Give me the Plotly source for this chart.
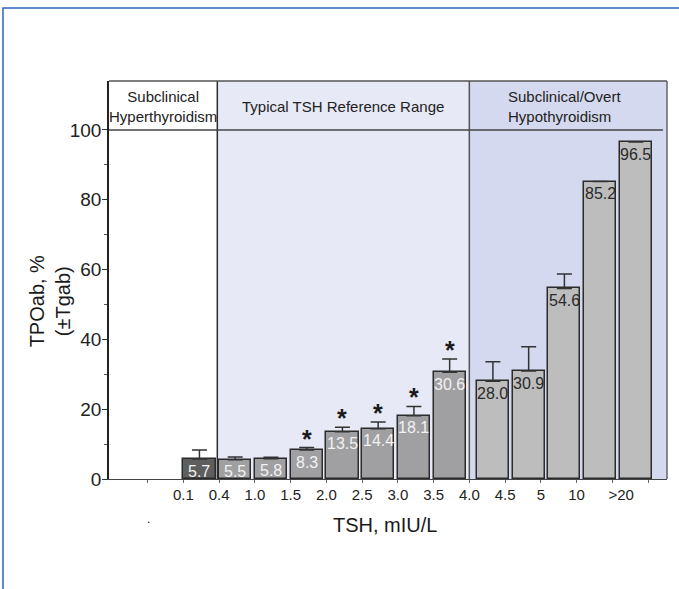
import plotly.graph_objects as go

# TSH bins (boundary labels along the x axis)
tsh_ticks = ["0.1", "0.4", "1.0", "1.5", "2.0", "2.5", "3.0", "3.5",
             "4.0", "4.5", "5", "10", ">20"]

# TPOab prevalence (%) per TSH interval and upper error
tpo_values = [5.7, 5.5, 5.8, 8.3, 13.5, 14.4, 18.1, 30.6, 28.0, 30.9, 54.6, 85.2, 96.5]
tpo_err = [2.6, 0.8, 0.4, 0.7, 1.3, 1.9, 2.7, 3.8, 5.6, 7.0, 4.1, None, None]
significant = [False, False, False, True, True, True, True, True,
               False, False, False, False, False]
# 0 = subclinical hyper, 1 = reference range, 2 = subclinical/overt hypo
group = [0, 1, 1, 1, 1, 1, 1, 1, 2, 2, 2, 2, 2]

region_titles = ["Subclinical<br>Hyperthyroidism",
                 "Typical TSH Reference Range",
                 "Subclinical/Overt<br>Hypothyroidism"]

FONT = "Liberation Sans, Arial, Helvetica, sans-serif"
bar_fill = {0: "#5e5e5e", 1: "#a0a0a2", 2: "#bdbdbd"}
label_col = {0: "#f2f2f2", 1: "#f2f2f2", 2: "#2a2a2a"}
group_shift = {0: 0.45, 1: 0.45, 2: 0.66}

X_MIN, X_MAX = -2.08, 13.53
Y_MAX = 114.0
HYPER_EDGE, HYPO_EDGE = 0.95, 8.0

xpos = [i + group_shift[g] for i, g in enumerate(group)]

fig = go.Figure()
fig.add_trace(go.Bar(
    x=xpos, y=tpo_values, width=0.9,
    marker=dict(color=[bar_fill[g] for g in group],
                line=dict(color="#2b2b2b", width=1.5)),
    error_y=dict(type="data", symmetric=False, array=tpo_err,
                 arrayminus=[0] * len(tpo_values),
                 color="#333333", thickness=1.5, width=7.5),
    hoverinfo="skip", showlegend=False,
))

annotations = []
# value labels inside the bar tops
for x, v, g in zip(xpos, tpo_values, group):
    annotations.append(dict(
        x=x, y=v, xref="x", yref="y", text=f"{v:.1f}", showarrow=False,
        yanchor="middle", yshift=-12,
        font=dict(family=FONT, size=16, color=label_col[g])))
# significance markers above the error caps
for x, v, e, s in zip(xpos, tpo_values, tpo_err, significant):
    if s:
        annotations.append(dict(
            x=x, y=v + (e or 0), xref="x", yref="y", text="<b>*</b>",
            showarrow=False, yanchor="middle", yshift=9,
            font=dict(family=FONT, size=25, color="#1a1a1a")))

# region headers
annotations += [
    dict(x=(X_MIN + HYPER_EDGE) / 2, y=106.6, xref="x", yref="y",
         text=region_titles[0], showarrow=False, align="center",
         font=dict(family=FONT, size=15, color="#222")),
    dict(x=(HYPER_EDGE + HYPO_EDGE) / 2, y=106.6, xref="x", yref="y",
         text=region_titles[1], showarrow=False,
         font=dict(family=FONT, size=15, color="#222")),
    dict(x=9.03, y=106.6, xref="x", yref="y", text=region_titles[2],
         showarrow=False, xanchor="left", align="left",
         font=dict(family=FONT, size=15, color="#222")),
]
# axis titles
annotations += [
    dict(x=-0.105, y=51, xref="paper", yref="y", text="TPOab, %<br>(±Tgab)",
         showarrow=False, textangle=-90, xanchor="center", yanchor="middle",
         font=dict(family=FONT, size=20, color="#1a1a1a")),
    dict(x=0.495, y=0, xref="paper", yref="paper", text="TSH, mIU/L",
         showarrow=False, yanchor="middle", yshift=-46,
         font=dict(family=FONT, size=20, color="#1a1a1a")),
    dict(x=0.064, y=0, xref="paper", yref="paper", text=".",
         showarrow=False, yanchor="middle", yshift=-40,
         font=dict(family=FONT, size=12, color="#111")),
]

shapes = [
    # shaded TSH regions
    dict(type="rect", xref="x", yref="paper", x0=HYPER_EDGE, x1=HYPO_EDGE,
         y0=0, y1=1, fillcolor="#e7e9f6", line=dict(width=0), layer="below"),
    dict(type="rect", xref="x", yref="paper", x0=HYPO_EDGE, x1=X_MAX,
         y0=0, y1=1, fillcolor="#d4d9ef", line=dict(width=0), layer="below"),
    # region dividers
    dict(type="line", xref="x", yref="paper", x0=HYPER_EDGE, x1=HYPER_EDGE,
         y0=0, y1=1, line=dict(color="#2b2b2b", width=1.5)),
    dict(type="line", xref="x", yref="paper", x0=HYPO_EDGE, x1=HYPO_EDGE,
         y0=0, y1=1, line=dict(color="#555", width=1.5)),
    # header box
    dict(type="line", xref="x", yref="y", x0=X_MIN, x1=13.42, y0=100, y1=100,
         line=dict(color="#444", width=1.5)),
    dict(type="line", xref="paper", yref="paper", x0=0, x1=1, y0=1, y1=1,
         line=dict(color="#555", width=1.5)),
    dict(type="line", xref="paper", yref="paper", x0=1, x1=1, y0=0, y1=1,
         line=dict(color="#666", width=1.5)),
    # outer frame
    dict(type="rect", xref="paper", yref="paper", x0=-0.19, x1=1.3,
         y0=-0.6, y1=1.1834, line=dict(color="#2a66b8", width=1.5),
         fillcolor="rgba(0,0,0,0)", layer="below"),
]

fig.update_layout(
    width=679, height=589,
    margin=dict(l=109, r=12, t=81, b=110),
    paper_bgcolor="white", plot_bgcolor="white",
    font=dict(family=FONT, color="#1a1a1a"),
    bargap=0, annotations=annotations, shapes=shapes,
    xaxis=dict(range=[X_MIN, X_MAX], showgrid=False, zeroline=False,
               showline=True, linecolor="#444", linewidth=1,
               tickmode="array",
               tickvals=list(range(12)) + [12.25], ticktext=tsh_ticks,
               ticks="", ticklabelstandoff=2,
               tickfont=dict(family=FONT, size=15, color="#222"),
               minor=dict(tickmode="array", tickvals=list(range(-1, 14)),
                          ticks="outside", ticklen=3, tickcolor="#666")),
    yaxis=dict(range=[0, Y_MAX], showgrid=False, zeroline=False,
               showline=True, linecolor="#222", linewidth=1.5,
               tickmode="array", tickvals=[0, 20, 40, 60, 80, 100],
               ticks="outside", ticklen=5, tickcolor="#333", tickwidth=1.2,
               ticklabelstandoff=-3,
               tickfont=dict(family=FONT, size=19, color="#222"),
               minor=dict(tickmode="array", tickvals=[10, 30, 50, 70, 90],
                          ticks="outside", ticklen=3, tickcolor="#555")),
)

fig.write_html("out.html")
